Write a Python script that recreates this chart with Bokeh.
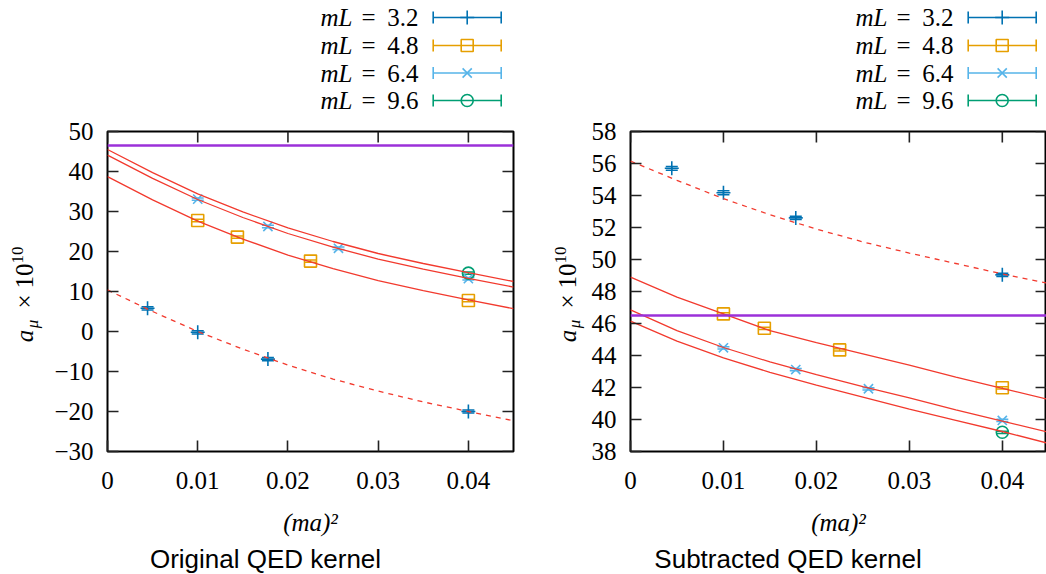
import numpy as np
from bokeh.plotting import figure
from bokeh.models import Range1d, FixedTicker, Whisker, TeeHead, ColumnDataSource, Span
from bokeh.layouts import row, column
from bokeh.embed import file_html
from bokeh.resources import INLINE
from bokeh.core.properties import value

# ---------------- data ----------------
series_names = ["3.2", "4.8", "6.4", "9.6"]
colors = ["#0072b2", "#e69f00", "#56b4e9", "#009e73"]
markers = ["cross", "square", "x", "circle"]
marker_sizes = [14, 12, 13, 12]

x_32 = [0.00444, 0.01, 0.01778, 0.04]
x_48 = [0.01, 0.0144, 0.0225, 0.04]
x_64 = [0.01, 0.01778, 0.0256, 0.04]
x_96 = [0.04]

orig_32 = [5.8, -0.2, -6.9, -20.0]
orig_48 = [27.75, 23.6, 17.6, 7.75]
orig_64 = [33.1, 26.25, 20.8, 13.2]
orig_96 = [14.6]
orig_32_err = [0.4, 0.4, 0.4, 0.35]
orig_48_err = [0.3, 0.3, 0.3, 0.3]
orig_64_err = [0.3, 0.3, 0.3, 0.3]
orig_96_err = [0.3]

sub_32 = [55.7, 54.17, 52.6, 49.04]
sub_48 = [46.6, 45.7, 44.35, 41.98]
sub_64 = [44.48, 43.12, 41.92, 39.94]
sub_96 = [39.2]
sub_32_err = [0.12, 0.12, 0.1, 0.1]
sub_48_err = [0.07, 0.07, 0.07, 0.07]
sub_64_err = [0.07, 0.07, 0.07, 0.07]
sub_96_err = [0.07]

fit_x = [0.0, 0.005, 0.01, 0.015, 0.02, 0.025, 0.03, 0.035, 0.04, 0.045]
orig_fit_32 = [10.4, 5.0, 0.0, -4.4, -8.4, -11.9, -14.9, -17.6, -20.0, -22.3]
orig_fit_48 = [38.7, 32.9, 27.6, 23.1, 19.1, 15.7, 12.7, 10.2, 7.9, 5.7]
orig_fit_64 = [44.1, 38.3, 33.0, 28.5, 24.5, 21.1, 18.1, 15.6, 13.3, 11.1]
orig_fit_96 = [45.5, 39.7, 34.4, 29.9, 25.9, 22.5, 19.5, 17.0, 14.7, 12.5]
sub_fit_32 = [56.15, 54.95, 53.8, 52.8, 51.9, 51.1, 50.4, 49.75, 49.1, 48.5]
sub_fit_48 = [48.9, 47.65, 46.6, 45.55, 44.8, 44.1, 43.4, 42.65, 41.95, 41.25]
sub_fit_64 = [46.85, 45.55, 44.5, 43.6, 42.8, 42.05, 41.35, 40.6, 39.9, 39.2]
sub_fit_96 = [46.15, 44.9, 43.85, 42.95, 42.15, 41.4, 40.65, 39.95, 39.25, 38.5]

reference_value = 46.5

x_ticks = [0, 0.01, 0.02, 0.03, 0.04]
x_tick_labels = ["0", "0.01", "0.02", "0.03", "0.04"]
orig_y_ticks = [-30, -20, -10, 0, 10, 20, 30, 40, 50]
orig_y_labels = ["\u221230", "\u221220", "\u221210", "0", "10", "20", "30", "40", "50"]
sub_y_ticks = [38, 40, 42, 44, 46, 48, 50, 52, 54, 56, 58]
sub_y_labels = [str(t) for t in sub_y_ticks]

x_label = "(ma)\u00b2"
titles = ["Original QED kernel", "Subtracted QED kernel"]

SERIF = "Liberation Serif"
SANS = "Liberation Sans"
FIT_COLOR = "#f23a2e"
REF_COLOR = "#9b30d9"
TICK_COLOR = "#222222"
TICK_LEN = 11

PAGE_H = 574
LEG_H = 115
TOP_B = 16
FRAME_H = 320
BOT_B = 56
PLOT_H = TOP_B + FRAME_H + BOT_B
PLOT_BOTTOM = LEG_H + PLOT_H
FOOT_H = PAGE_H - PLOT_BOTTOM


def style_axis(ax, ticks, labels, standoff):
    ax.ticker = FixedTicker(ticks=ticks)
    ax.minor_tick_line_color = None
    ax.major_tick_in = TICK_LEN
    ax.major_tick_out = 0
    ax.major_tick_line_color = TICK_COLOR
    ax.major_tick_line_width = 1.6
    ax.axis_line_color = None
    ax.major_label_text_font = SERIF
    ax.major_label_text_font_size = "25px"
    ax.major_label_text_color = "black"
    ax.major_label_standoff = standoff
    ax.major_label_overrides = {t: l for t, l in zip(ticks, labels)}


def blank_fig(w, h, y0=0, y1=None, bt=0, bb=0):
    f = figure(width=w, height=h, x_range=Range1d(0, w),
               y_range=Range1d(y0, h if y1 is None else y1),
               output_backend="svg", toolbar_location=None,
               min_border=0, min_border_left=0, min_border_right=0,
               min_border_top=bt, min_border_bottom=bb,
               x_axis_location=None, y_axis_location=None)
    f.outline_line_color = None
    f.grid.visible = False
    f.background_fill_color = "white"
    f.border_fill_color = "white"
    return f


def make_plot(width, mbl, mbr, frame_w, xend, yr, yticks, ylabels, xs, ys, errs, fits):
    p = figure(width=width, height=PLOT_H, x_range=Range1d(0, xend), y_range=Range1d(*yr),
               output_backend="svg", toolbar_location=None,
               min_border_left=mbl, min_border_right=mbr, min_border_top=TOP_B,
               min_border_bottom=BOT_B)
    p.outline_line_color = "black"
    p.outline_line_width = 2
    p.grid.visible = False
    p.background_fill_color = "white"
    p.border_fill_color = "white"
    style_axis(p.xaxis[0], x_ticks, x_tick_labels, standoff=20)
    style_axis(p.yaxis[0], yticks, ylabels, standoff=14)

    # mirrored ticks on the top and right edges of the frame
    dy = TICK_LEN * (yr[1] - yr[0]) / FRAME_H
    dx = TICK_LEN * xend / frame_w
    p.segment(x0=x_ticks, y0=[yr[1]] * len(x_ticks), x1=x_ticks, y1=[yr[1] - dy] * len(x_ticks),
              line_color=TICK_COLOR, line_width=1.6)
    p.segment(x0=[xend] * len(yticks), y0=yticks, x1=[xend - dx] * len(yticks), y1=yticks,
              line_color=TICK_COLOR, line_width=1.6)

    p.add_layout(Span(location=reference_value, dimension="width",
                      line_color=REF_COLOR, line_width=2.6))

    for i in range(4):
        c = colors[i]
        x = np.array(xs[i]); y = np.array(ys[i]); e = np.array(errs[i])
        src = ColumnDataSource(dict(base=x, lower=y - e, upper=y + e))
        p.add_layout(Whisker(source=src, base="base", lower="lower", upper="upper",
                             line_color=c, line_width=1.5,
                             upper_head=TeeHead(size=12, line_color=c, line_width=1.5),
                             lower_head=TeeHead(size=12, line_color=c, line_width=1.5)))
        p.scatter(x, y, marker=markers[i], size=marker_sizes[i], line_color=c,
                  fill_color=None, line_width=1.6)

    for i, fy in enumerate(fits):
        p.line(fit_x, fy, line_color=FIT_COLOR, line_width=1.3,
               line_dash="5 5" if i == 0 else "solid")
    return p


def make_legend(w, x_ml, x_eq, x_val, line_x0, line_x1):
    f = blank_fig(w, LEG_H)
    rows_page = [17, 45, 72.5, 100]
    ys = [LEG_H - r for r in rows_page]
    f.text([x_ml] * 4, ys, text=["mL"] * 4, text_align="right", text_baseline="middle",
           text_font=value(SERIF), text_font_size=value("25px"), text_font_style=value("italic"),
           text_color="black")
    f.text([x_eq] * 4, ys, text=["="] * 4, text_align="center", text_baseline="middle",
           text_font=value(SERIF), text_font_size=value("25px"), text_color="black")
    f.text([x_val] * 4, ys, text=series_names, text_align="right", text_baseline="middle",
           text_font=value(SERIF), text_font_size=value("25px"), text_color="black")
    for i in range(4):
        c = colors[i]
        y = ys[i]
        f.segment(x0=[line_x0], y0=[y], x1=[line_x1], y1=[y], line_color=c, line_width=1.6)
        f.segment(x0=[line_x0, line_x1], y0=[y - 6, y - 6], x1=[line_x0, line_x1], y1=[y + 6, y + 6],
                  line_color=c, line_width=1.6)
        f.scatter([(line_x0 + line_x1) / 2], [y], marker=markers[i], size=marker_sizes[i],
                  line_color=c, fill_color=None, line_width=1.6)
    return f


def make_ylabel(w, cx):
    # the row aligns this figure's frame with the plot frame, so give it the same borders
    # and a y range in canvas pixels (measured from the canvas bottom)
    f = blank_fig(w, PLOT_H, y0=BOT_B, y1=PLOT_H - TOP_B, bt=TOP_B, bb=BOT_B)

    def fy(page_y):
        return PLOT_BOTTOM - page_y
    ang = np.pi / 2
    pieces = [
        ("a", cx, 335.5, "25px", "italic"),
        ("\u03bc", cx + 7.5, 323.5, "17px", "italic"),
        ("\u00d7", cx, 301, "25px", "normal"),
        ("10", cx, 275.5, "25px", "normal"),
        ("10", cx - 7, 254.5, "17px", "normal"),
    ]
    for txt, x, py, size, style in pieces:
        f.text([x], [fy(py)], text=[txt], angle=ang, text_align="center", text_baseline="middle",
               text_font=value(SERIF), text_font_size=value(size), text_font_style=value(style),
               text_color="black")
    return f


def make_foot(w, label_cx, title_cx, title):
    f = blank_fig(w, FOOT_H)
    f.text([label_cx], [PAGE_H - 522], text=[x_label], text_align="center", text_baseline="middle",
           text_font=value(SERIF), text_font_size=value("25px"), text_font_style=value("italic"),
           text_color="black")
    f.text([title_cx], [PAGE_H - 558.5], text=[title], text_align="center", text_baseline="middle",
           text_font=value(SANS), text_font_size=value("26px"), text_color="black")
    return f


# left panel (page x 0..530)
leg_l = make_legend(530, 352, 368, 418, 432.7, 500.7)
ylab_l = make_ylabel(50, 24)
plot_l = make_plot(480, 57, 17, 406, 0.045, (-30, 50), orig_y_ticks, orig_y_labels,
                   [x_32, x_48, x_64, x_96], [orig_32, orig_48, orig_64, orig_96],
                   [orig_32_err, orig_48_err, orig_64_err, orig_96_err],
                   [orig_fit_32, orig_fit_48, orig_fit_64, orig_fit_96])
foot_l = make_foot(530, 310, 265, titles[0])

# right panel (page x 530..1046)
leg_r = make_legend(516, 357, 373, 423, 437.7, 505.7)
ylab_r = make_ylabel(58, 36.5)
plot_r = make_plot(458, 40, 0, 418, 418 / 9340, (38, 58), sub_y_ticks, sub_y_labels,
                   [x_32, x_48, x_64, x_96], [sub_32, sub_48, sub_64, sub_96],
                   [sub_32_err, sub_48_err, sub_64_err, sub_96_err],
                   [sub_fit_32, sub_fit_48, sub_fit_64, sub_fit_96])
foot_r = make_foot(516, 308, 257.5, titles[1])

layout = row(column(leg_l, row(ylab_l, plot_l), foot_l),
             column(leg_r, row(ylab_r, plot_r), foot_r))

open("out.html", "w").write(file_html(layout, INLINE))
